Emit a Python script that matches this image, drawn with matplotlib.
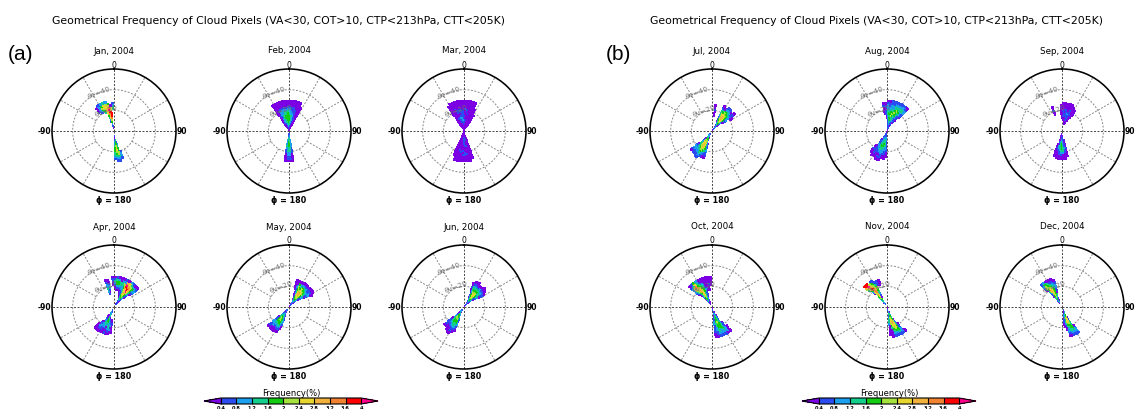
import numpy as np
import matplotlib
matplotlib.use("Agg")
import matplotlib.pyplot as plt
from matplotlib.colors import ListedColormap, BoundaryNorm
import matplotlib.cm as cm

W, H, DPI = 1146, 410, 100

TITLE = "Geometrical Frequency of Cloud Pixels (VA<30, COT>10, CTP<213hPa, CTT<205K)"
GROUP_LABELS = ["(a)", "(b)"]
MONTH_TITLES = [["Jan, 2004", "Feb, 2004", "Mar, 2004", "Apr, 2004", "May, 2004", "Jun, 2004"],
                ["Jul, 2004", "Aug, 2004", "Sep, 2004", "Oct, 2004", "Nov, 2004", "Dec, 2004"]]
LEVELS = [0.4, 0.8, 1.2, 1.6, 2.0, 2.4, 2.8, 3.2, 3.6, 4.0]
TICK_LABELS = ["0.4", "0.8", "1.2", "1.6", "2", "2.4", "2.8", "3.2", "3.6", "4"]
LEVEL_COLORS = ["#2a4cf0", "#1aa0ee", "#12cf8e", "#12cc12", "#a6e23e",
                "#e6d62e", "#f0b23c", "#f08232", "#ff0000"]
UNDER_COLOR = "#7c00e4"
OVER_COLOR = "#ff008c"

# frequency (%) codes: '.' none, 'p' <0.4, digits = level bins, 'm' >4
CODE_VALUES = {"p": 0.2, "1": 0.6, "2": 1.0, "3": 1.4, "4": 1.8, "5": 2.2,
               "6": 2.6, "7": 3.0, "8": 3.4, "9": 3.8, "m": 4.5}
PHI_STEP = 5                         # azimuth bin width (deg), key = lower edge
THETA_EDGES = list(range(0, 32, 2))  # view zenith bins 0..30 deg

# key: relative azimuth lower edge; string: theta bins 0-2,2-4,...,28-30
JAN = {-40: "...........1pp.", -35: "..........12221", -30: "..........24542",
       -25: ".........345663", -20: "....12345677652", -15: ".p12456789m874.",
       -10: "..1346899976p..", -5: "..........3321.",
       160: "..........1221.", 165: ".....1234455321", 170: "..1234456654321",
       175: "...p1223443321."}
FEB = {-35: "ppppppppppppppp", -30: "pppp1pp11p1pppp", -25: "ppp112212211ppp",
       -20: "pp1122332221ppp", -15: "p11233443321ppp", -10: "p12334443321ppp",
       -5: "p12344444321ppp", 0: "p12334443221ppp", 5: "p11223332211ppp",
       10: "pp1122222111ppp", 15: "ppp11111111pppp", 20: "pppppp1pppppppp",
       25: "ppppppppppppp..",
       170: "p1112222111pppp", 175: "11223344332211p", 180: "11233444332211p",
       185: "p1112223211pppp"}
MAR = {-35: "pppppppppppppp.", -30: "ppppppppppppppp", -25: "pppppp1pppp1ppp",
       -20: "ppppp11pp11pppp", -15: "pppp1121p11pppp", -10: "ppp11221111pppp",
       -5: "ppp1121111ppppp", 0: "pppp11p1pp1pppp", 5: "ppppp1ppp11pppp",
       10: "pppppppp1pppppp", 15: "ppppppppppppppp", 20: "ppppppppppppppp",
       25: "pppppppppppp...", 30: "ppppppppp......",
       160: "pppppppppppppp.", 165: "ppppppppppppppp", 170: "pppp1pp1ppp1ppp",
       175: "ppp11111pp11ppp", 180: "ppp1111pp1p1ppp", 185: "pppp1ppppp1pppp",
       190: "ppppppppp1ppppp", 195: "ppppppppppppppp", 200: "ppppppppppppp.."}
APR = {-20: "......1233221p.", -15: ".......p1221pp.",
       -5: "..........pp11p", 0: ".........p1231p", 5: "........p124431",
       10: "........p13442p", 15: ".......pp1233pp", 20: "......p1122332p",
       25: ".....p112345521", 30: "pp1123455679m7p", 35: "p11234567m98762",
       40: "...p12345677531", 45: "......p1234442p", 50: ".........p1221p",
       185: "......pp1pppp..", 190: "......p11212pp.", 195: ".....p1223321p.",
       200: "p112233432p1p1.", 205: "p12233443321pp.", 210: "....pp1232211p.",
       215: "........p1221p.", 220: "..........pppp."}
MAY = {15: ".........ppppp.", 20: "......pp1122pp.", 25: "....p11234554p.",
       30: "pp12345665432p.", 35: "p123456776542p.", 40: "p123455665431p.",
       45: "..p1234454321p.", 50: ".....p1233211p.", 55: "........p1221p.",
       60: "...........pp..",
       200: "....pp1221pp...", 205: "..p1122332211p.", 210: "p112334444321p.",
       215: "p12234554321pp.", 220: "..p123344322pp.", 225: "......p112211p."}
JUN = {20: "........pp1pp..", 25: ".....p1123321p.", 30: "..p1234454321p.",
       35: "p12345665431p..", 40: "p12345565432p..", 45: "..p123443321pp.",
       50: ".....p123321p..", 55: "........p11p...",
       200: ".....p112211p..", 205: "..p1233443221p.", 210: "p1234454433211p",
       215: "p12345544321pp.", 220: "...p1233321pp..", 225: ".......p1111p.."}
JUL = {5: ".......ppp1pp..", 25: ".....p1123321p.", 30: "..p123455643p..",
       35: "p1234567765421.", 40: "p1234566654321.", 45: "...p12344432p..",
       50: "......p122211p.", 55: "..........pp...",
       195: "......p112211p.", 200: "...p112344321p.", 205: "p1234566654321.",
       210: "p12345677654321", 215: "p1234566543221.", 220: "....p123332211.",
       225: "........p1221p."}
AUG = {-10: "........pppp1p.", -5: "......pp11p1pp.", 0: "..p11122332221p",
       5: "p1122343432211p", 10: "p11234454432211", 15: "p11223345432211",
       20: "p11122334543321", 25: "..p112234454321", 30: "....p1122343321",
       35: "......p11223321", 40: "........p11221p",
       180: "p112211111ppp..", 185: "p11223332211pp.", 190: "p11233443221pp.",
       195: "p1123344332211p", 200: "p11223343321p1p", 205: ".p1122332211pp.",
       210: "....p11221111p.", 215: "........pp1pp.."}
SEP = {-25: "........pp1pp..", -5: "......ppppppp..", 0: ".....pp1p1pppp.",
       5: "....ppp11p1ppp.", 10: "...pp1p1111ppp.", 15: "...pp11121pppp.",
       20: "....pp11111ppp.", 25: ".....ppp1pppp..", 30: ".......ppppp...",
       165: "....pppp1pppp..", 170: "..pp1p11211ppp.", 175: ".pp11223332ppp.",
       180: "p11123444321pp.", 185: "pp1122333211pp.", 190: "..ppp11221pppp.",
       195: "......pp1pppp.."}
OCT = {-50: "........p12221p", -45: ".......p1357531", -40: "....p12345678641",
       -35: ".p12345677654321", -30: "p1234566654431p", -25: "..p1223344332pp",
       -20: ".....p11221pppp", -15: "........p1ppppp", -10: "........ppp1ppp",
       -5: "..........ppppp",
       140: "...........pppp", 145: "........p11222p", 150: "....p1122334321",
       155: "..p112334443221", 160: "p11234455443321", 165: "p1123344332211p",
       170: "....p11221111pp"}
NOV = {-50: "...........3579m", -45: "........p2468m9", -40: "..p12345678975.",
       -35: "p12345678876541", -30: ".....p12345431.", -25: "...........p11.",
       -20: "...........ppp.",
       140: ".............pp", 145: ".........p11221", 150: "......p12344431",
       155: "..p123456665421", 160: "p12345677654321", 165: "p1234566543pppp",
       170: "...p12332ppppp."}
DEC = {-45: "..........p1221", -40: "......p12345542", -35: "..p12345676543p",
       -30: "p1234566665431p", -25: "...p1234443321p", -20: ".......p11221p.",
       145: "..........p1221", 150: ".....p123344321", 155: "p12345665443321",
       160: "p1234566543221p", 165: "..p1233321pp...", 170: ".....p11pp....."}
MONTH_DATA = [[JAN, FEB, MAR, APR, MAY, JUN], [JUL, AUG, SEP, OCT, NOV, DEC]]

# layout in pixels
R = 62
COL_X = [114, 289, 464]
ROW_Y = [132, 308]
GROUP_DX = 598

cmap = ListedColormap(LEVEL_COLORS)
cmap.set_under(UNDER_COLOR)
cmap.set_over(OVER_COLOR)
norm = BoundaryNorm(LEVELS, cmap.N, extend="neither")

fig = plt.figure(figsize=(W / DPI, H / DPI), dpi=DPI)


def fx(px):
    return px / W


def fy(py):
    return 1 - py / H


def grid_from(month):
    nphi = 360 // PHI_STEP
    ntheta = len(THETA_EDGES) - 1
    z = np.full((ntheta, nphi), np.nan)
    for phi0, row in month.items():
        j = int(((phi0 + 180) % 360) // PHI_STEP)
        row = (row + "." * ntheta)[:ntheta]
        for i, ch in enumerate(row):
            if ch in CODE_VALUES:
                z[i, j] = CODE_VALUES[ch]
    return np.ma.masked_invalid(z)


phi_edges = np.deg2rad(np.arange(-180, 181, PHI_STEP))
theta_edges = np.array(THETA_EDGES, dtype=float)
circ = np.linspace(0, 2 * np.pi, 361)

for g in range(2):
    gx = g * GROUP_DX
    fig.text(fx(8 + gx), fy(54), GROUP_LABELS[g], fontsize=15,
             family="Liberation Sans", ha="left", va="center")
    fig.text(fx(COL_X[1] + gx - 10), fy(21), TITLE, fontsize=7.8,
             ha="center", va="center")
    for k in range(6):
        cx = COL_X[k % 3] + gx
        cy = ROW_Y[k // 3]
        ax = fig.add_axes([fx(cx - R), fy(cy + R), 2 * R / W, 2 * R / H],
                          projection="polar")
        ax.set_theta_zero_location("N")
        ax.set_theta_direction(-1)
        ax.set_xticks([])
        ax.set_yticks([])
        ax.grid(False)
        ax.spines["polar"].set_linewidth(1.15)
        for rr in (20, 40):
            ax.plot(circ, np.full_like(circ, rr), color="#8a8a8a", lw=0.7,
                    ls=(0, (2.0, 1.6)), zorder=1)
        for a in range(0, 360, 30):
            r0 = 0 if a % 90 == 0 else 20
            col = "#444444" if a % 90 == 0 else "#8a8a8a"
            ax.plot([np.deg2rad(a)] * 2, [r0, 60], color=col, lw=0.7,
                    ls=(0, (2.0, 1.6)), zorder=1)
        z = grid_from(MONTH_DATA[g][k])
        ax.pcolormesh(phi_edges, theta_edges, z, cmap=cmap, norm=norm,
                      shading="flat", zorder=2)
        ax.set_ylim(0, 60)
        ax.text(np.deg2rad(-21), 41, "θv=40", fontsize=5.2, color="#6e6e6e",
                rotation=21, ha="center", va="center", zorder=3)
        ax.text(np.deg2rad(-20), 22, "θv=20", fontsize=5.2, color="#6e6e6e",
                rotation=20, ha="center", va="center", zorder=3)
        fig.text(fx(cx), fy(cy - 81), MONTH_TITLES[g][k], fontsize=6.3,
                 ha="center", va="center")
        fig.text(fx(cx), fy(cy - 67), "0", fontsize=5.5, ha="center", va="center")
        fig.text(fx(cx + R + 1), fy(cy), "90", fontsize=5.5, ha="left",
                 va="center", weight="bold")
        fig.text(fx(cx - R - 1), fy(cy), "-90", fontsize=5.5, ha="right",
                 va="center", weight="bold")
        fig.text(fx(cx), fy(cy + 69), "ϕ = 180", fontsize=5.8, ha="center",
                 va="center", weight="bold")

    # colour bar
    x0, x1 = 204 + gx, 378 + gx
    cax = fig.add_axes([fx(x0), fy(405), (x1 - x0) / W, 6 / H])
    cb = fig.colorbar(cm.ScalarMappable(norm=norm, cmap=cmap), cax=cax,
                      orientation="horizontal", extend="both",
                      extendfrac=21 / 174, drawedges=True, ticks=LEVELS)
    cb.outline.set_linewidth(0.8)
    cb.dividers.set_linewidth(0.8)
    cax.set_xticklabels(TICK_LABELS)
    cax.tick_params(length=0, labelsize=3.6, pad=0.5)
    for t in cax.get_xticklabels():
        t.set_fontweight("bold")
    fig.text(fx((x0 + x1) / 2), fy(394), "Frequency(%)", fontsize=6,
             ha="center", va="center")

fig.savefig("out.png", dpi=DPI)
